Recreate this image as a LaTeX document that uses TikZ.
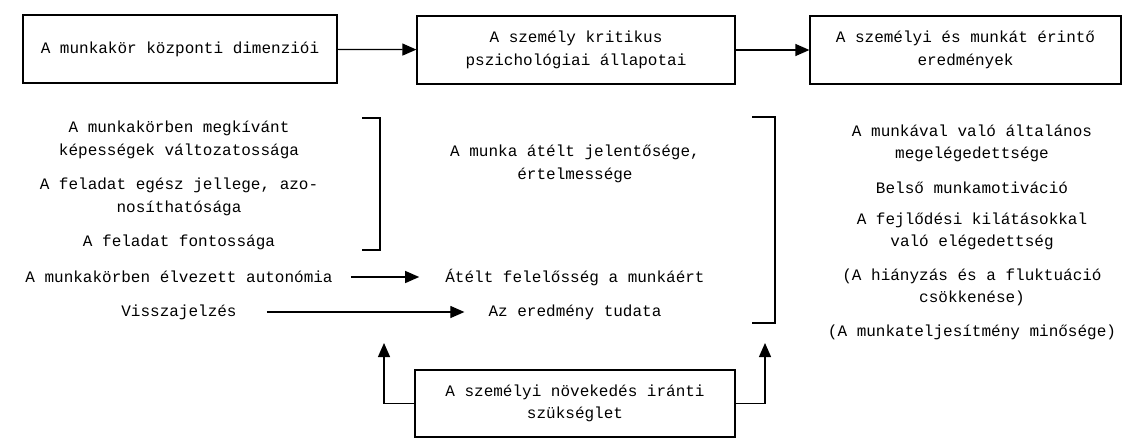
\documentclass[tikz,border=0pt]{standalone}
\usepackage{fontspec}
\newfontfamily\irogep{Liberation Mono}
\usetikzlibrary{arrows.meta}
\tikzset{>={Triangle[length=14pt,width=12pt]}}
\tikzset{
  doboz/.style={draw,line width=1.2pt,align=center,minimum height=68pt,inner sep=2pt},
  tetel/.style={align=center,inner sep=2pt},
  nyil/.style={->,line width=1.2pt},
  zarojel/.style={line width=1.2pt}
}

\begin{document}
\begin{tikzpicture}[x=1pt,y=-1pt,font=\irogep\fontsize{16}{22.5}\selectfont]
    \useasboundingbox (0,0) rectangle (1123,439);
    % fejlec
    \node[doboz,minimum width=314pt](dim) at (180,49) {A munkakör központi dimenziói};
    \node[doboz,minimum width=318pt](allap) at (576,50) {A személy kritikus\\pszichológiai állapotai};
    \node[doboz,minimum width=311pt](ered) at (965.5,50) {A személyi és munkát érintő\\eredmények};
    \draw[nyil] (dim) -- (allap);
    \draw[nyil] (allap) -- (ered);
    % bal oszlop
    \node[tetel](L1) at (179,140) {A munkakörben megkívánt\\képességek változatossága};
    \node[tetel](L2) at (179,197) {A feladat egész jellege, azo-\\nosíthatósága};
    \node[tetel](L3) at (179,242) {A feladat fontossága};
    \node[tetel](L4) at (179,277) {A munkakörben élvezett autonómia};
    \node[tetel](L5) at (179,312) {Visszajelzés};
    \draw[zarojel] (362,118) -| (380,250) -- (362,250);
    % kozepso oszlop
    \node[tetel](K1) at (575,164) {A munka átélt jelentősége,\\értelmessége};
    \node[tetel](K2) at (575,277) {Átélt felelősség a munkáért};
    \node[tetel](K3) at (575,312) {Az eredmény tudata};
    \draw[nyil] ([xshift=16pt]L4.east) -- ([xshift=-24pt]L4.east -| K2.west);
    \draw[nyil] ([xshift=28pt]L5.east) -- ([xshift=-22pt]L5.east -| K3.west);
    \draw[zarojel] (752,117) -| (775,323) -- (752,323);
    % jobb oszlop
    \node[tetel](R1) at (972,143.5) {A munkával való általános\\megelégedettsége};
    \node[tetel](R2) at (972,188) {Belső munkamotiváció};
    \node[tetel](R3) at (972,231.5) {A fejlődési kilátásokkal\\való elégedettség};
    \node[tetel](R4) at (972,287.5) {(A hiányzás és a fluktuáció\\csökkenése)};
    \node[tetel](R5) at (972,332) {(A munkateljesítmény minősége)};
    % szukseglet
    \node[doboz,minimum width=320pt,minimum height=67pt](szuks) at (575,403.5) {A személyi növekedés iránti\\szükséglet};
    \coordinate (fel1) at (384,343);
    \coordinate (fel2) at (765,343);
    \draw[nyil] (szuks.west) -| (fel1);
    \draw[nyil] (szuks.east) -| (fel2);
\end{tikzpicture}
\end{document}
